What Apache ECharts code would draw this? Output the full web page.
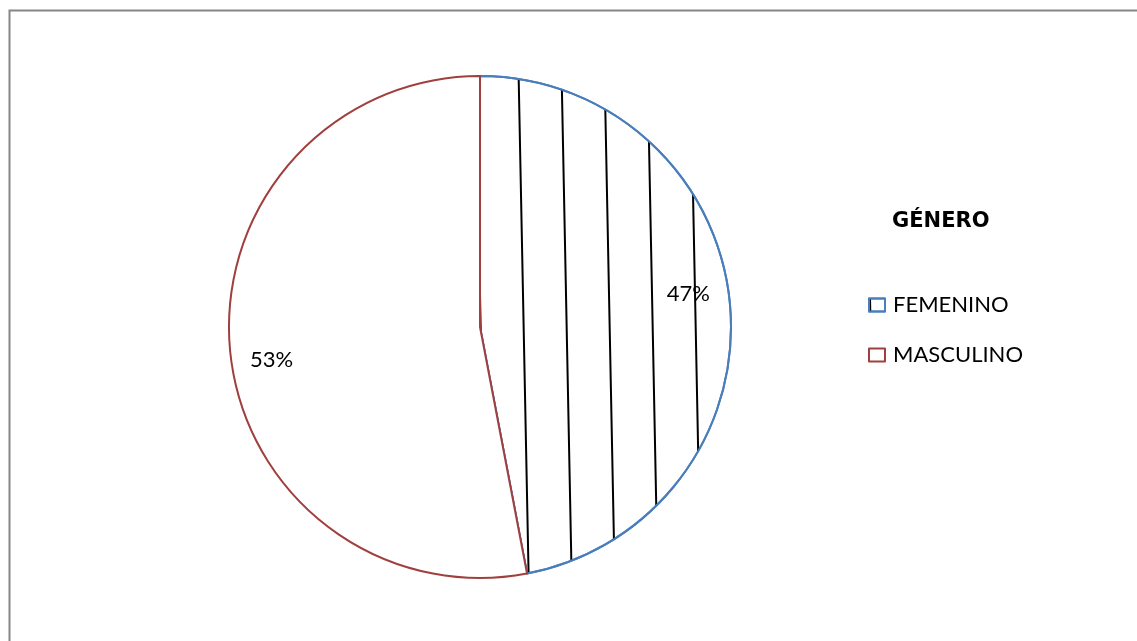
<!DOCTYPE html>
<html><head><meta charset="utf-8">
<script src="https://cdn.jsdelivr.net/npm/echarts@6/dist/echarts.min.js"></script>
<style>html,body{margin:0;padding:0;background:#fff}#c{width:1137px;height:641px}</style>
</head><body><div id="c"></div>
<script>
const legendTitle = 'GÉNERO';
const categories = ['FEMENINO', 'MASCULINO'];
const values = [47, 53];
const borderColors = ['#4a7ebb', '#a0403e'];

const chart = echarts.init(document.getElementById('c'), null, {renderer: 'canvas'});
const FONT = 'Lato';
const data = categories.map((n, i) => {
  const it = {color: '#ffffff', borderColor: borderColors[i], borderWidth: 2};
  if (i === 0) it.decal = {symbol: 'rect', symbolSize: 1, color: '#000', backgroundColor: 'rgba(0,0,0,0)',
      dashArrayX: [2, 41], dashArrayY: [20, 0], rotation: -0.02};
  return {name: n, value: values[i], itemStyle: it};
});
chart.setOption({
  animation: false,
  graphic: [{type: 'rect', left: 7, top: 8, shape: {width: 1140, height: 640}, style: {fill: 'none', stroke: '#868686', lineWidth: 2}, silent: true}],
  title: {text: legendTitle, left: 892, top: 211, padding: 0, textStyle: {fontFamily: 'DejaVu Sans', fontWeight: 'bold', fontSize: 21, color: '#000'}},
  legend: {
    orient: 'vertical', left: 868, top: 294, padding: 0, itemGap: 28, itemWidth: 16, itemHeight: 13,
    icon: 'rect',
    textStyle: {fontFamily: FONT, fontSize: 22, color: '#000', padding: [0, 0, 0, 3]},
    data: categories
  },
  series: [{
    type: 'pie', center: [480, 327], radius: [0, 251], startAngle: 90, clockwise: true,
    label: {show: false}, labelLine: {show: false}, emphasis: {disabled: true},
    data: data
  }, {
    type: 'pie', center: [480, 327], radius: [165, 251], startAngle: 93.6, clockwise: true,
    silent: true, emphasis: {disabled: true}, labelLine: {show: false}, legendHoverLink: false,
    itemStyle: {color: 'rgba(0,0,0,0)', borderWidth: 0},
    label: {show: true, position: 'inside', formatter: '{d}%', fontFamily: FONT, fontSize: 22, color: '#000'},
    data: categories.map((n, i) => ({name: n, value: values[i]}))
  }]
});
</script></body></html>
